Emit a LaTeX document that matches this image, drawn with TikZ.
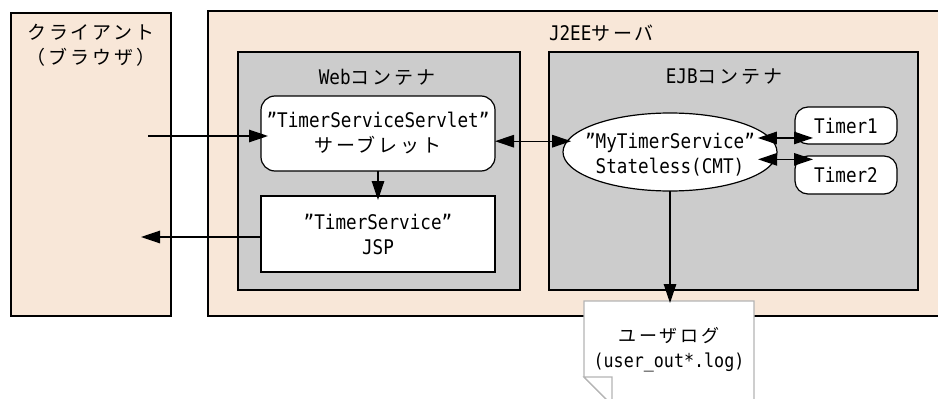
\documentclass[tikz,border=0pt]{standalone}
\usepackage{fontspec}
\newfontfamily\jpf[LetterSpace=15]{Noto Sans CJK JP}
\newfontfamily\ltf[Scale=1.06,FakeStretch=0.875]{DejaVu Sans Mono}
\newcommand\jp[1]{{\jpf #1}}
\newcommand\lt[1]{{\ltf #1}}
\usetikzlibrary{arrows.meta,shapes.geometric}
\definecolor{peach}{HTML}{F8E7D8}
\definecolor{cgray}{HTML}{CCCCCC}
\definecolor{dgray}{HTML}{B4B4B4}
\begin{document}
\begin{tikzpicture}[x=1pt,y=-1pt,
  every node/.style={inner sep=0pt,outer sep=0pt},
  txt/.style={font=\fontsize{19}{25}\selectfont, align=center},
  outerbox/.style={draw=black, line width=1.2pt, fill=peach},
  contbox/.style={draw=black, line width=1.2pt, fill=cgray},
  whitebox/.style={draw=black, line width=1.2pt, fill=white},
  tip/.tip={Triangle[length=19pt,width=12.5pt]},
  arr/.style={line width=1.3pt, -tip},
  darr/.style={line width=1.3pt, tip-tip},
]
\useasboundingbox (0,0) rectangle (938,399);
\clip (0,0) rectangle (938,399);

% outer boxes
\node[outerbox, minimum width=160pt, minimum height=303pt] (client) at (91,164.5) {};
\node[outerbox, minimum width=737pt, minimum height=305pt] (j2ee) at (576.5,163.5) {};
\node[contbox, minimum width=282pt, minimum height=238pt] (web) at (379,171) {};
\node[contbox, minimum width=369pt, minimum height=238pt] (ejb) at (733.5,171) {};

% labels
\node[txt] (clientlbl) at (91,45) {\jp{クライアント}\\\jp{（ブラウザ）}};
\node[txt, anchor=west] (j2eelbl) at (549,33) {\lt{J2EE}\jp{サーバ}};
\node[txt] (weblbl) at (377,77) {\lt{Web}\jp{コンテナ}};
\node[txt] (ejblbl) at (724,77) {\lt{EJB}\jp{コンテナ}};

% inner components
\node[whitebox, txt, rounded corners=14pt, minimum width=234pt, minimum height=75pt] (srv) at (378,133.5)
  {\lt{”TimerServiceServlet”}\\\jp{サーブレット}};
\node[whitebox, txt, minimum width=234pt, minimum height=76pt] (jsp) at (378,234)
  {\lt{”TimerService”}\\\lt{JSP}};
\node[whitebox, ellipse, minimum width=214pt, minimum height=78pt] (el) at (670,152) {};
\node[txt] (eltxt) at (670,155) {\lt{”MyTimerService”}\\\lt{Stateless(CMT)}};
\node[whitebox, txt, rounded corners=13pt, minimum width=102pt, minimum height=37pt] (t1) at (846,125.5) {\lt{Timer1}};
\node[whitebox, txt, rounded corners=13pt, minimum width=102pt, minimum height=38pt] (t2) at (846,175) {\lt{Timer2}};

% log document
\draw[draw=dgray, line width=1.2pt, fill=white]
  (584,301) -- (754,301) -- (754,405) -- (612,405) -- (584,377) -- cycle;
\draw[draw=dgray, line width=1.2pt, fill=white]
  (584,377) -- (612,377) -- (612,405) -- cycle;
\node[font=\fontsize{18}{25}\selectfont, align=center] (logtxt) at (669,350)
  {\jp{ユーザログ}\\\lt{(user\_out*.log)}};

% connectors
\coordinate (inL) at (148,136);
\coordinate (outL) at (141,237);
\coordinate (logtop) at (670,303);
\draw[arr, shorten >=-7pt] (inL) -- (inL -| srv.west);
\draw[arr] (outL -| jsp.west) -- (outL);
\draw[arr, shorten >=-4pt] (srv.south) -- (jsp.north);
\draw[darr, shorten <=-4pt] (el.174) -- (el.174 -| srv.east);
\draw[darr, shorten <=-12pt, shorten >=-18pt] (el.8) -- (el.8 -| t1.west);
\draw[darr, shorten <=-17pt, shorten >=-18pt] (el.-4) -- (el.-4 -| t2.west);
\draw[arr] (el.south) -- (logtop);
\end{tikzpicture}
\end{document}
